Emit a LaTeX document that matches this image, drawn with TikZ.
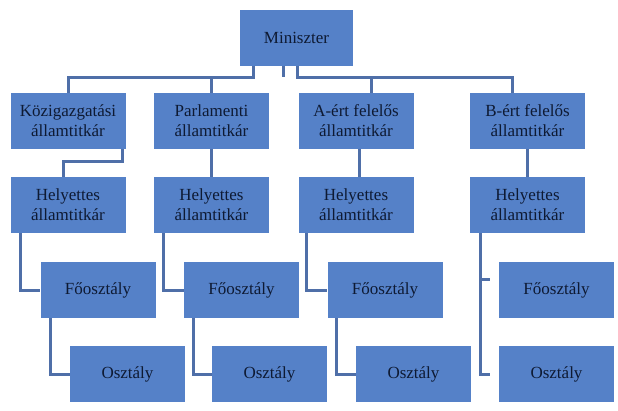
\documentclass[tikz,border=0pt]{standalone}
\usepackage{fontspec}
\setmainfont{Liberation Serif}
\begin{document}
\begin{tikzpicture}[x=1pt,y=-1pt,
  box/.style={fill=boxblue,draw=none,minimum width=#1,minimum height=56pt,inner sep=0pt,align=center,font=\fontsize{17}{20}\selectfont,text=textnavy},
  box/.default=115pt,
  conn/.style={draw=lineblue,line width=3pt}]
\definecolor{boxblue}{HTML}{5581C8}
\definecolor{lineblue}{HTML}{4F6FA8}
\definecolor{textnavy}{HTML}{0E1A33}
\useasboundingbox (0,0) rectangle (618,410);
\node[box=113pt] (m) at (296.5,37.5) {Miniszter};
\foreach \n/\x/\t in {a/68/Közigazgatási\\államtitkár, b/211.5/Parlamenti\\államtitkár, c/356/A-ért felelős\\államtitkár, d/527.5/B-ért felelős\\államtitkár}{
  \node[box] (\n1) at (\x,121) {\t};
  \node[box] (\n2) at (\x,205) {Helyettes\\államtitkár};
}
\node[box] (a3) at (98,290) {Főosztály};
\node[box] (b3) at (241.5,290) {Főosztály};
\node[box] (c3) at (385,290) {Főosztály};
\node[box] (d3) at (556.5,290) {Főosztály};
\node[box] (a4) at (127.5,374) {Osztály};
\node[box] (b4) at (269.5,374) {Osztály};
\node[box] (c4) at (413.5,374) {Osztály};
\node[box] (d4) at (556.5,374) {Osztály};
% top bus
\coordinate (busl) at (68,77);
\coordinate (busr) at (512,77);
\draw[conn] (m.south -| 253,0) |- (busl) -- (a1.north -| busl);
\draw[conn] (m.south -| 283,0) -- (283,77);
\draw[conn] (m.south -| 297,0) |- (busr) -- (d1.north -| busr);
\draw[conn] (211.5,77) -- (b1.north);
\draw[conn] (371,77) -- (c1.north -| 371,0);
% level 1 to 2
\draw[conn] (a1.south -| 122,0) |- (63,161) -- (a2.north -| 63,0);
\draw[conn] (b1.south) -- (b2.north);
\draw[conn] (c1.south -| 359,0) -- (c2.north -| 359,0);
\draw[conn] (d1.south -| 527,0) -- (d2.north -| 527,0);
% lower
\foreach \n/\xa/\xb in {a/20/50, b/163/193, c/306/336}{
  \draw[conn] (\n2.south -| \xa,0) |- (\n3.west);
  \draw[conn] (\n3.south -| \xb,0) |- (\n4.west);
}
\draw[conn] (d2.south -| 480,0) |- (d4.west -| 490,0);
\draw[conn] (480,279) -- (490,279);
\end{tikzpicture}
\end{document}
